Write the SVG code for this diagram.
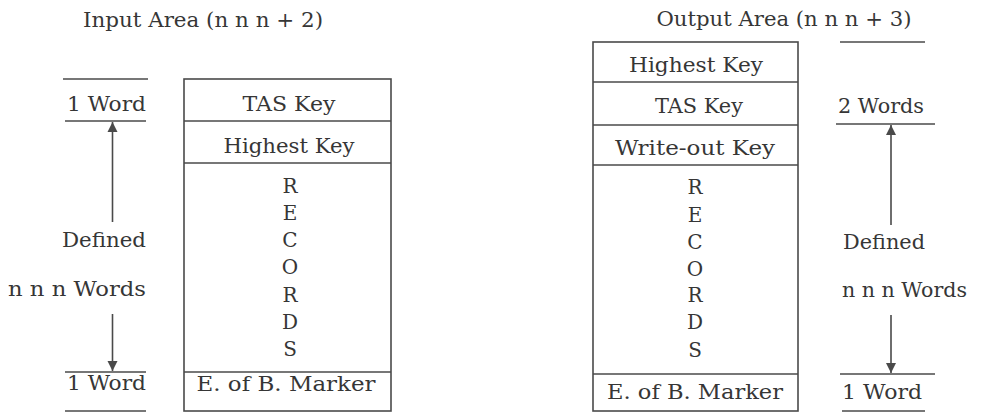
<svg xmlns="http://www.w3.org/2000/svg" width="981" height="413" viewBox="0 0 981 413">
<style>
  text { font-family: "DejaVu Serif", "Liberation Serif", serif; font-size: 20px; fill: #363636; }
  .c { text-anchor: middle; }
  .box { fill: none; stroke: #4a4a4a; stroke-width: 1.6; }
  .rule { stroke: #4a4a4a; stroke-width: 1.6; }
  .arrow { stroke: #4a4a4a; stroke-width: 1.6; fill: none; }
</style>
<defs>
  <marker id="ah" viewBox="0 0 10 16" refX="10" refY="8" markerWidth="10" markerHeight="16" markerUnits="userSpaceOnUse" orient="auto">
    <path d="M0,3 L10,8 L0,13 Z" fill="#4a4a4a"/>
  </marker>
</defs>
<rect width="981" height="413" fill="#ffffff"/>

<g id="input-title">
  <text class="c" x="203" y="27" textLength="240" lengthAdjust="spacingAndGlyphs">Input Area (n n n + 2)</text>
</g>
<g id="output-title">
  <text class="c" x="784" y="26" textLength="255" lengthAdjust="spacingAndGlyphs">Output Area (n n n + 3)</text>
</g>

<g id="input-area">
  <rect class="box" x="184" y="79" width="207" height="332"/>
  <line class="rule" x1="184" y1="121" x2="391" y2="121"/>
  <line class="rule" x1="184" y1="163" x2="391" y2="163"/>
  <line class="rule" x1="184" y1="372" x2="391" y2="372"/>
  <text class="c" x="289" y="111" textLength="93" lengthAdjust="spacingAndGlyphs">TAS Key</text>
  <text class="c" x="289" y="153" textLength="131" lengthAdjust="spacingAndGlyphs">Highest Key</text>
  <text class="c" x="290" y="193">R</text>
  <text class="c" x="290" y="220">E</text>
  <text class="c" x="290" y="247">C</text>
  <text class="c" x="290" y="274">O</text>
  <text class="c" x="290" y="302">R</text>
  <text class="c" x="290" y="329">D</text>
  <text class="c" x="290" y="356">S</text>
  <text class="c" x="286" y="391" textLength="179" lengthAdjust="spacingAndGlyphs">E. of B. Marker</text>
</g>

<g id="output-area">
  <rect class="box" x="593" y="42" width="205" height="369"/>
  <line class="rule" x1="593" y1="82" x2="798" y2="82"/>
  <line class="rule" x1="593" y1="125" x2="798" y2="125"/>
  <line class="rule" x1="593" y1="165" x2="798" y2="165"/>
  <line class="rule" x1="593" y1="374" x2="798" y2="374"/>
  <text class="c" x="696" y="72" textLength="134" lengthAdjust="spacingAndGlyphs">Highest Key</text>
  <text class="c" x="699" y="113" textLength="88" lengthAdjust="spacingAndGlyphs">TAS Key</text>
  <text class="c" x="695" y="155" textLength="160" lengthAdjust="spacingAndGlyphs">Write-out Key</text>
  <text class="c" x="695" y="194">R</text>
  <text class="c" x="695" y="222">E</text>
  <text class="c" x="695" y="249">C</text>
  <text class="c" x="695" y="276">O</text>
  <text class="c" x="695" y="302">R</text>
  <text class="c" x="695" y="329">D</text>
  <text class="c" x="695" y="357">S</text>
  <text class="c" x="695" y="399" textLength="176" lengthAdjust="spacingAndGlyphs">E. of B. Marker</text>
</g>

<g id="input-labels">
  <text class="c" x="106.5" y="111" textLength="79" lengthAdjust="spacingAndGlyphs">1 Word</text>
  <text class="c" x="104" y="247" textLength="84" lengthAdjust="spacingAndGlyphs">Defined</text>
  <text class="c" x="77" y="296" textLength="138" lengthAdjust="spacingAndGlyphs">n n n Words</text>
  <text class="c" x="106.5" y="390" textLength="79" lengthAdjust="spacingAndGlyphs">1 Word</text>
</g>

<g id="output-labels">
  <text class="c" x="881" y="113" textLength="86" lengthAdjust="spacingAndGlyphs">2 Words</text>
  <text class="c" x="884" y="249" textLength="82" lengthAdjust="spacingAndGlyphs">Defined</text>
  <text class="c" x="904.5" y="297" textLength="125" lengthAdjust="spacingAndGlyphs">n n n Words</text>
  <text class="c" x="882" y="399" textLength="80" lengthAdjust="spacingAndGlyphs">1 Word</text>
</g>

<g id="connectors">
  <line class="rule" x1="63" y1="79" x2="148" y2="79"/>
  <line class="rule" x1="65" y1="121" x2="146" y2="121"/>
  <line class="rule" x1="65" y1="372" x2="146" y2="372"/>
  <line class="rule" x1="65" y1="411" x2="146" y2="411"/>
  <line class="arrow" x1="112.5" y1="222" x2="112.5" y2="122" marker-end="url(#ah)"/>
  <line class="arrow" x1="112.5" y1="314" x2="112.5" y2="371" marker-end="url(#ah)"/>

  <line class="rule" x1="840" y1="42" x2="925" y2="42"/>
  <line class="rule" x1="836" y1="124" x2="935" y2="124"/>
  <line class="rule" x1="840" y1="374" x2="935" y2="374"/>
  <line class="rule" x1="842" y1="411" x2="925" y2="411"/>
  <line class="arrow" x1="891" y1="225" x2="891" y2="125" marker-end="url(#ah)"/>
  <line class="arrow" x1="891" y1="315" x2="891" y2="373" marker-end="url(#ah)"/>
</g>
</svg>
